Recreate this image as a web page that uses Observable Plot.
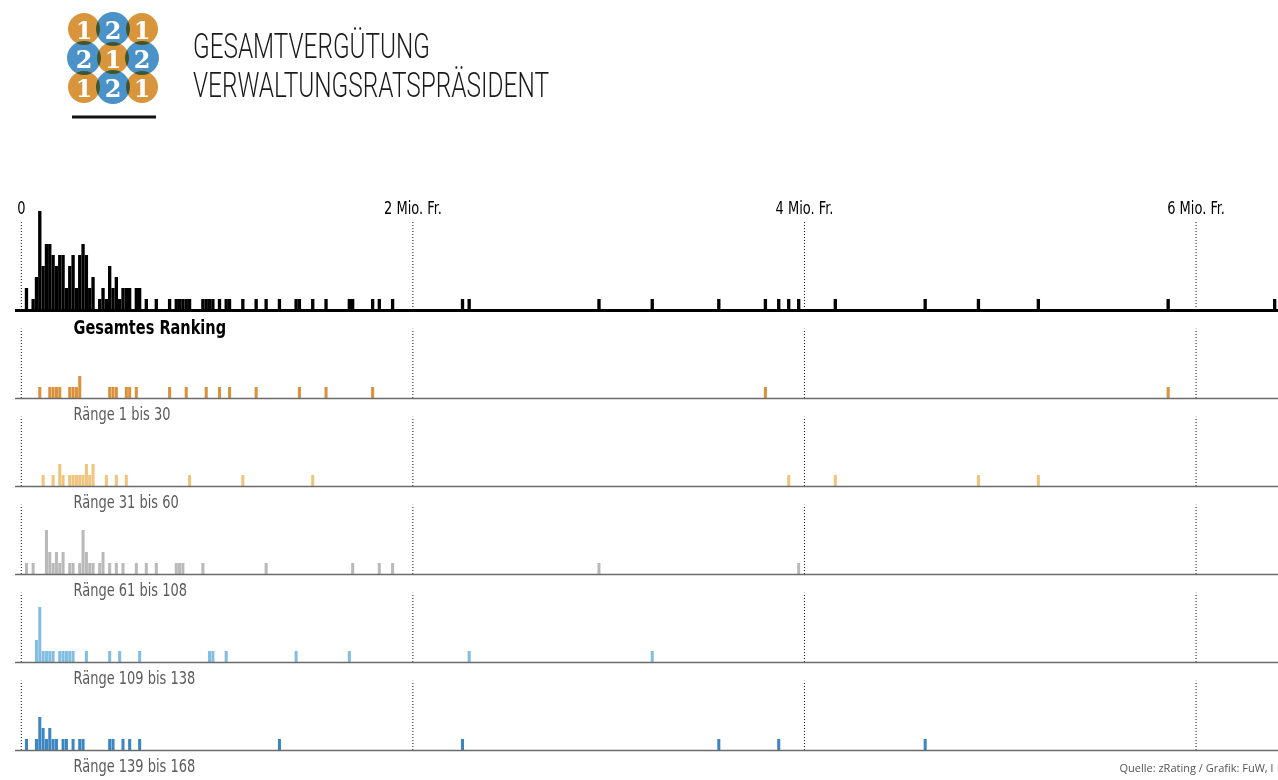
<!DOCTYPE html>
<html><head><meta charset="utf-8">
<script src="https://cdn.jsdelivr.net/npm/d3@7"></script>
<script src="https://cdn.jsdelivr.net/npm/@observablehq/plot@0.6"></script>
<style>
html,body{margin:0;padding:0;background:#fff;overflow:hidden;}
#header{position:relative;width:1278px;height:180px;}
#chart svg{display:block;}
</style></head><body>
<div id="header">
<svg width="1278" height="180" xmlns="http://www.w3.org/2000/svg">
  <g style="isolation:isolate">
    <g style="mix-blend-mode:multiply" fill="#d9953c">
      <circle cx="84" cy="29" r="16"/><circle cx="142" cy="29" r="16"/>
      <circle cx="113" cy="58" r="16"/>
      <circle cx="84" cy="87" r="16"/><circle cx="142" cy="87" r="16"/>
    </g>
    <g style="mix-blend-mode:multiply" fill="#4a92c8">
      <circle cx="113" cy="29" r="17"/>
      <circle cx="84" cy="58" r="17"/><circle cx="142" cy="58" r="17"/>
      <circle cx="113" cy="87" r="17"/>
    </g>
  </g>
  <g font-family="'DejaVu Serif', serif" font-weight="bold" font-size="24" fill="#fff" text-anchor="middle" dominant-baseline="central">
    <text x="84" y="30">1</text><text x="113" y="30">2</text><text x="142" y="30">1</text>
    <text x="84" y="59">2</text><text x="113" y="59">1</text><text x="142" y="59">2</text>
    <text x="84" y="88">1</text><text x="113" y="88">2</text><text x="142" y="88">1</text>
  </g>
  <line x1="72" x2="156" y1="117" y2="117" stroke="#111" stroke-width="3"/>
  <text x="193" y="58" font-family="Roboto, sans-serif" font-weight="300" font-size="35" fill="#1a1a1a" textLength="237" lengthAdjust="spacingAndGlyphs">GESAMTVERGÜTUNG</text>
  <text x="193" y="97" font-family="Roboto, sans-serif" font-weight="300" font-size="35" fill="#1a1a1a" textLength="356" lengthAdjust="spacingAndGlyphs">VERWALTUNGSRATSPRÄSIDENT</text>
</svg>
</div>
<div id="chart"></div>
<script>
// Panels (categories) and their colours
const panelNames = ["Gesamtes Ranking", "Ränge 1 bis 30", "Ränge 31 bis 60", "Ränge 61 bis 108", "Ränge 109 bis 138", "Ränge 139 bis 168"];
const panelColors = ["#000000", "#d9923b", "#efc47c", "#b9b9b9", "#82bde2", "#3a85c2"];

// Gesamtvergütung je Präsident, in Mio. Fr. (one value per person)
const rang1bis30 = [0.097, 0.148, 0.165, 0.182, 0.199, 0.250, 0.267, 0.284, 0.301, 0.301,
  0.454, 0.471, 0.488, 0.539, 0.556, 0.590, 0.760, 0.845, 0.947, 1.015, 1.066, 1.202,
  1.423, 1.559, 1.797, 3.803, 5.860];
const rang31bis60 = [0.114, 0.165, 0.199, 0.199, 0.216, 0.250, 0.267, 0.284, 0.301, 0.318,
  0.335, 0.335, 0.352, 0.369, 0.369, 0.437, 0.488, 0.539, 0.862, 1.134, 1.491,
  3.922, 4.160, 4.891, 5.197];
const rang61bis108 = [0.029, 0.063, 0.131, 0.131, 0.131, 0.131, 0.148, 0.148, 0.165, 0.182,
  0.182, 0.199, 0.216, 0.216, 0.250, 0.267, 0.301, 0.318, 0.318, 0.318, 0.318, 0.335,
  0.335, 0.352, 0.369, 0.403, 0.420, 0.420, 0.454, 0.488, 0.522, 0.590, 0.641, 0.692,
  0.794, 0.811, 0.828, 0.930, 1.253, 1.695, 1.831, 1.899, 2.953, 3.973];
const rang109bis138 = [0.080, 0.080, 0.097, 0.097, 0.097, 0.097, 0.097, 0.114, 0.131, 0.148,
  0.165, 0.199, 0.216, 0.233, 0.250, 0.267, 0.335, 0.454, 0.505, 0.607, 0.964, 0.981,
  1.049, 1.406, 1.678, 2.290, 3.225];
const rang139bis168 = [0.029, 0.080, 0.097, 0.097, 0.097, 0.114, 0.114, 0.131, 0.148, 0.148,
  0.165, 0.182, 0.216, 0.233, 0.267, 0.301, 0.318, 0.454, 0.471, 0.522, 0.556, 0.607,
  1.321, 2.256, 3.565, 3.871, 4.619];
// shown only in the overall ranking
const nurGesamt = [6.404];

const xTicks = [0, 2, 4, 6];
const xTickLabels = ["0", "2 Mio. Fr.", "4 Mio. Fr.", "6 Mio. Fr."];
const caption = "Quelle: zRating / Grafik: FuW, l";

// Build table
const groups = [rang1bis30, rang31bis60, rang61bis108, rang109bis138, rang139bis168];
const rows = [];
groups.forEach((vals, i) => vals.forEach(v => {
  rows.push({panel: panelNames[i + 1], value: v});
  rows.push({panel: panelNames[0], value: v});
}));
nurGesamt.forEach(v => rows.push({panel: panelNames[0], value: v}));
const rowsTotal = rows.filter(d => d.panel === panelNames[0]);
const rowsRanks = rows.filter(d => d.panel !== panelNames[0]);

const binStep = 0.017, binOrigin = -0.0135;
const thresholds = d3.range(binOrigin, 6.43, binStep);
const binDomain = [thresholds[0], thresholds[thresholds.length - 1]];

const gridRows = panelNames.flatMap((p, i) => xTicks.map(x => ({panel: p, x, top: i === 0 ? 8 : 6.3})));

const condensed = "'Liberation Sans Narrow', 'DejaVu Sans Condensed', 'Roboto Condensed', 'Arial Narrow', sans-serif";

const chart = Plot.plot({
  width: 1278,
  height: 600,
  marginLeft: 15, marginRight: 0, marginTop: 42, marginBottom: 30,
  x: {domain: [-0.0296, 6.421]},
  y: {domain: [0, 8], axis: null},
  fy: {domain: panelNames, padding: 0, axis: null},
  color: {domain: panelNames, range: panelColors},
  style: {fontFamily: condensed, background: "white", color: "#000"},
  marks: [
    Plot.ruleX(gridRows, {x: "x", fy: "panel", y1: 0, y2: "top", stroke: "#111", strokeWidth: 1, strokeDasharray: "1,2"}),
    Plot.rectY(rowsTotal, Plot.binX({y: "count"}, {x: "value", fy: "panel", fill: "panel", thresholds, domain: binDomain, insetLeft: 0, insetRight: 0})),
    Plot.rectY(rowsRanks, Plot.binX({y: "count"}, {x: "value", fy: "panel", fill: "panel", thresholds, domain: binDomain, insetLeft: 0.15, insetRight: 0.15})),
    Plot.ruleY(panelNames.slice(0, 1), {fy: d => d, y: 0, stroke: "#000", strokeWidth: 3}),
    Plot.ruleY(panelNames.slice(1), {fy: d => d, y: 0, stroke: "#6b6b6b", strokeWidth: 1.5}),
    Plot.axisX({anchor: "top", ticks: xTicks, tickFormat: d => xTickLabels[xTicks.indexOf(d)], tickSize: 0, tickPadding: 9, fontSize: 17, fill: "#000"}),
    Plot.text(panelNames.slice(0, 1), {fy: d => d, text: d => d, frameAnchor: "bottom-left", dx: 58, dy: 17, textAnchor: "start", lineAnchor: "middle", fontSize: 19, fontWeight: "bold", fill: "#000"}),
    Plot.text(panelNames.slice(1), {fy: d => d, text: d => d, frameAnchor: "bottom-left", dx: 58, dy: 16, textAnchor: "start", lineAnchor: "middle", fontSize: 17, fill: "#5a5a5a"}),
    Plot.text([caption], {fy: () => panelNames[5], text: d => d, frameAnchor: "bottom-right", dx: -159, dy: 18, textAnchor: "start", lineAnchor: "middle", fontSize: 11, fill: "#555", fontFamily: "'Open Sans', 'Noto Sans', sans-serif"})
  ]
});
document.getElementById("chart").appendChild(chart);

// condense the chart's labels to the narrow typeface of the original (not the source line)
d3.select(chart).selectAll("text").each(function () {
  if (this.textContent === caption) return;
  const len = this.getComputedTextLength();
  if (len > 0) {
    this.setAttribute("textLength", (len * 0.85).toFixed(1));
    this.setAttribute("lengthAdjust", "spacingAndGlyphs");
  }
});
</script>
</body></html>
